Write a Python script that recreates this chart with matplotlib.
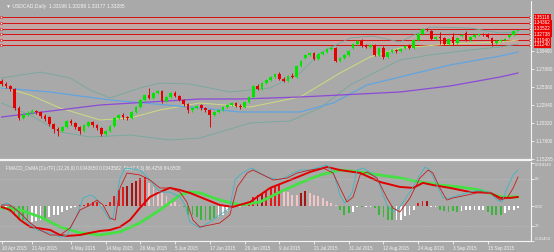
import matplotlib.pyplot as plt

plt.rcParams['font.family'] = ['Liberation Sans', 'DejaVu Sans']

# USDCAD daily candles, bar 0 = 10 Apr 2015 ... bar 119 = 24 Sep 2015
opens = [1.2620, 1.2578, 1.2550, 1.2508, 1.2242, 1.2102, 1.2144, 1.2172, 1.2200, 1.2186,
         1.2130, 1.2116, 1.2018, 1.1948, 1.1920, 1.1976, 1.2060, 1.2032, 1.1976, 1.1920,
         1.1990, 1.2046, 1.2004, 1.1962, 1.1878, 1.1920, 1.1990, 1.2102, 1.2144, 1.2116,
         1.2102, 1.2186, 1.2256, 1.2354, 1.2424, 1.2382, 1.2452, 1.2480, 1.2340, 1.2396,
         1.2452, 1.2410, 1.2354, 1.2298, 1.2214, 1.2242, 1.2284, 1.2242, 1.2214, 1.2144,
         1.2186, 1.2214, 1.2256, 1.2284, 1.2312, 1.2270, 1.2256, 1.2326, 1.2396, 1.2550,
         1.2508, 1.2592, 1.2634, 1.2676, 1.2718, 1.2648, 1.2620, 1.2690, 1.2676, 1.2830,
         1.2942, 1.2984, 1.3012, 1.2928, 1.2998, 1.3026, 1.3068, 1.3082, 1.2900, 1.2942,
         1.2984, 1.3082, 1.3138, 1.3180, 1.3110, 1.3096, 1.3124, 1.2984, 1.3082, 1.2956,
         1.3026, 1.3054, 1.3040, 1.3082, 1.3110, 1.3082, 1.3194, 1.3278, 1.3348, 1.3320,
         1.3208, 1.3236, 1.3222, 1.3138, 1.3236, 1.3152, 1.3250, 1.3292, 1.3194, 1.3236,
         1.3264, 1.3278, 1.3278, 1.3222, 1.3152, 1.3180, 1.3194, 1.3236, 1.3264, 1.33196]
highs = [1.2648, 1.2606, 1.2564, 1.2522, 1.2270, 1.2172, 1.2200, 1.2228, 1.2214, 1.2200,
         1.2158, 1.2130, 1.2032, 1.1976, 1.1990, 1.2074, 1.2088, 1.2046, 1.1990, 1.2018,
         1.2060, 1.2060, 1.2018, 1.1976, 1.1934, 1.2004, 1.2116, 1.2158, 1.2172, 1.2130,
         1.2200, 1.2270, 1.2368, 1.2438, 1.2522, 1.2466, 1.2494, 1.2494, 1.2410, 1.2466,
         1.2480, 1.2424, 1.2368, 1.2312, 1.2256, 1.2284, 1.2298, 1.2256, 1.2228, 1.2200,
         1.2228, 1.2270, 1.2298, 1.2326, 1.2326, 1.2298, 1.2340, 1.2410, 1.2564, 1.2578,
         1.2606, 1.2648, 1.2690, 1.2732, 1.2746, 1.2676, 1.2704, 1.2732, 1.2844, 1.2914,
         1.2998, 1.3026, 1.3026, 1.3012, 1.3040, 1.3082, 1.3110, 1.3096, 1.2956, 1.2998,
         1.3054, 1.3152, 1.3194, 1.3208, 1.3138, 1.3138, 1.3138, 1.3096, 1.3110, 1.3040,
         1.3068, 1.3068, 1.3082, 1.3124, 1.3138, 1.3208, 1.3292, 1.3362, 1.3362, 1.3334,
         1.3250, 1.3306, 1.3236, 1.3222, 1.3292, 1.3236, 1.3278, 1.3320, 1.3250, 1.3278,
         1.3292, 1.3292, 1.3292, 1.3236, 1.3194, 1.3208, 1.3222, 1.3278, 1.3334, 1.33288]
lows = [1.2550, 1.2522, 1.2480, 1.2214, 1.2074, 1.2088, 1.2130, 1.2158, 1.2158, 1.2102,
        1.2060, 1.1990, 1.1892, 1.1850, 1.1906, 1.1962, 1.2004, 1.1948, 1.1878, 1.1906,
        1.1976, 1.1976, 1.1934, 1.1850, 1.1850, 1.1906, 1.1976, 1.2088, 1.2088, 1.2074,
        1.2088, 1.2172, 1.2242, 1.2340, 1.2368, 1.2368, 1.2438, 1.2312, 1.2326, 1.2382,
        1.2396, 1.2340, 1.2270, 1.2172, 1.2186, 1.2228, 1.2214, 1.2186, 1.1976, 1.2130,
        1.2172, 1.2200, 1.2242, 1.2270, 1.2256, 1.2228, 1.2242, 1.2312, 1.2382, 1.2494,
        1.2494, 1.2578, 1.2620, 1.2662, 1.2634, 1.2606, 1.2606, 1.2662, 1.2662, 1.2816,
        1.2928, 1.2970, 1.2914, 1.2914, 1.2984, 1.3012, 1.3054, 1.2886, 1.2886, 1.2928,
        1.2970, 1.3068, 1.3124, 1.3096, 1.3082, 1.3082, 1.2970, 1.2970, 1.2928, 1.2942,
        1.3012, 1.3012, 1.3026, 1.3068, 1.3068, 1.3068, 1.3180, 1.3264, 1.3320, 1.3194,
        1.3194, 1.3138, 1.3124, 1.3124, 1.3124, 1.3138, 1.3236, 1.3180, 1.3180, 1.3222,
        1.3250, 1.3250, 1.3222, 1.3110, 1.3138, 1.3166, 1.3180, 1.3222, 1.3250, 1.33177]
closes = [1.2578, 1.2550, 1.2508, 1.2242, 1.2102, 1.2144, 1.2172, 1.2200, 1.2186, 1.2130,
          1.2088, 1.2018, 1.1948, 1.1920, 1.1976, 1.2060, 1.2032, 1.1976, 1.1920, 1.2004,
          1.2046, 1.2004, 1.1962, 1.1878, 1.1920, 1.1990, 1.2102, 1.2144, 1.2116, 1.2102,
          1.2186, 1.2256, 1.2354, 1.2424, 1.2382, 1.2452, 1.2480, 1.2340, 1.2396, 1.2452,
          1.2410, 1.2354, 1.2298, 1.2214, 1.2242, 1.2270, 1.2242, 1.2214, 1.2144, 1.2186,
          1.2214, 1.2256, 1.2284, 1.2312, 1.2270, 1.2256, 1.2326, 1.2396, 1.2550, 1.2508,
          1.2592, 1.2634, 1.2676, 1.2718, 1.2648, 1.2620, 1.2690, 1.2676, 1.2830, 1.2900,
          1.2984, 1.3012, 1.2928, 1.2998, 1.3026, 1.3068, 1.3082, 1.2900, 1.2942, 1.2984,
          1.3040, 1.3138, 1.3180, 1.3110, 1.3096, 1.3124, 1.2984, 1.3082, 1.2956, 1.3026,
          1.3054, 1.3040, 1.3068, 1.3110, 1.3082, 1.3194, 1.3278, 1.3348, 1.3334, 1.3208,
          1.3236, 1.3222, 1.3138, 1.3208, 1.3152, 1.3222, 1.3264, 1.3194, 1.3236, 1.3264,
          1.3278, 1.3264, 1.3236, 1.3152, 1.3180, 1.3194, 1.3208, 1.3264, 1.3320, 1.33285]

date_pos = [0, 7, 16, 24, 32, 40, 48, 56, 64, 72, 80, 88, 96, 104, 112]
date_labels = ["10 Apr 2015", "21 Apr 2015", "4 May 2015", "14 May 2015", "26 May 2015",
               "5 Jun 2015", "17 Jun 2015", "29 Jun 2015", "9 Jul 2015", "21 Jul 2015",
               "31 Jul 2015", "12 Aug 2015", "24 Aug 2015", "3 Sep 2015", "15 Sep 2015"]

price_ticks = [1.30400, 1.27880, 1.25360, 1.22840, 1.20320, 1.17800, 1.15285]
level_prices = [1.35118, 1.34362, 1.33522, 1.32738, 1.31940, 1.31240]

# overlays at sample bars
bb_up_x = [0, 8.9, 15.8, 20.4, 25.0, 31.9, 36.5, 43.4, 52.6, 61.9, 68.8, 73.4, 80.3, 85.6, 91.8, 98.7, 107.9, 114.9, 119]
bb_up = [1.2662, 1.2746, 1.2662, 1.2494, 1.2382, 1.2522, 1.2592, 1.2578, 1.2466, 1.2522, 1.2732, 1.3012, 1.3222, 1.3250, 1.3166, 1.3376, 1.3362, 1.3292, 1.3306]
bb_lo_x = [0, 6.6, 13.5, 20.4, 29.6, 38.8, 45.7, 57.3, 66.5, 73.4, 80.3, 87.2, 91.8, 98.7, 107.9, 114.9, 119]
bb_lo = [1.2312, 1.2144, 1.1906, 1.1836, 1.1864, 1.1794, 1.1822, 1.2032, 1.2060, 1.2242, 1.2564, 1.2774, 1.2914, 1.2984, 1.3054, 1.3096, 1.3138]
sma_x = [0, 6.6, 13.5, 22.7, 29.6, 36.5, 45.7, 57.3, 68.8, 78.0, 84.9, 91.8, 103.3, 114.9, 119]
sma = [1.2536, 1.2424, 1.2242, 1.2074, 1.2102, 1.2214, 1.2312, 1.2256, 1.2396, 1.2732, 1.2956, 1.3082, 1.3138, 1.3166, 1.3194]
ma_blue_x = [0, 11.2, 25.0, 45.7, 55.0, 68.8, 76.4, 84.2, 91.8, 103.3, 114.9, 119]
ma_blue = [1.2522, 1.2466, 1.2354, 1.2242, 1.2186, 1.2186, 1.2312, 1.2564, 1.2676, 1.2844, 1.2970, 1.3026]
ma_purple_x = [0, 22.7, 45.7, 55.0, 68.8, 91.8, 103.3, 114.9, 119]
ma_purple = [1.2116, 1.2284, 1.2368, 1.2368, 1.2396, 1.2466, 1.2550, 1.2676, 1.2732]

# FMACD_OsMA sub-window
osma = [-0.0008, -0.0013, -0.0025, -0.0042, -0.0055, -0.0059, -0.0063, -0.0067, -0.0063, -0.0059,
        -0.0055, -0.0046, -0.0038, -0.0034, -0.0025, -0.0017, -0.0008, -0.0004, 0.0004, 0.0008,
        0.0013, 0.0017, 0.0017, 0.0004, 0.0004, 0.0017, 0.0042, 0.0071, 0.0080, 0.0088,
        0.0097, 0.0109, 0.0118, 0.0122, 0.0097, 0.0080, 0.0067, 0.0059, 0.0042, 0.0029,
        0.0017, 0.0008, -0.0004, -0.0034, -0.0038, -0.0046, -0.0055, -0.0055, -0.0059, -0.0050,
        -0.0046, -0.0034, -0.0021, -0.0013, -0.0004, -0.0004, 0.0004, 0.0008, 0.0038, 0.0050,
        0.0055, 0.0063, 0.0076, 0.0084, 0.0092, 0.0067, 0.0059, 0.0050, 0.0050, 0.0055,
        0.0063, 0.0055, 0.0050, 0.0042, 0.0034, 0.0025, 0.0013, 0.0004, -0.0013, -0.0034,
        -0.0029, -0.0025, -0.0004, -0.0004, -0.0004, -0.0004, -0.0008, -0.0034, -0.0046, -0.0055,
        -0.0059, -0.0059, -0.0055, -0.0042, -0.0034, -0.0013, 0.0013, 0.0021, 0.0025, -0.0004,
        -0.0004, -0.0017, -0.0021, -0.0025, -0.0021, -0.0025, -0.0021, -0.0017, -0.0017, -0.0017,
        -0.0013, -0.0013, -0.0025, -0.0034, -0.0038, -0.0038, -0.0029, -0.0017, -0.0013, -0.0008]
osma_kind = list("wwgggggwww" "gwwwwwwwrr" "rrrprrrrrd" "ddrrpppppp" "ppgggggggg"
                 "wwwwwwrrrd" "drrrrppppd" "dppppppp" "gg" "gwwgwwgggg" "gwwwwwrrdw"
                 "wgggggwwww" "wwggggwwww")
macd_x = [0, 2.0, 4.3, 6.6, 11.2, 13.5, 15.1, 18.1, 20.4, 22.7, 25.0, 27.3, 29.6, 31.9, 34.2, 36.5, 38.8, 41.1,
          43.4, 45.7, 50.3, 53.3, 57.3, 61.9, 66.5, 71.1, 75.0, 78.0, 82.6, 87.2, 91.8, 94.8, 97.1, 99.4,
          103.3, 107.9, 112.6, 114.9, 117.2, 119]
macd = [-0.0002, -0.0015, -0.0057, -0.0086, -0.0099, -0.0120, -0.0124, -0.0120, -0.0111, -0.0103, -0.0099,
        -0.0086, -0.0057, -0.0006, 0.0040, 0.0061, 0.0078, 0.0069, 0.0057, 0.0040, 0.0006, -0.0002, 0.0019,
        0.0078, 0.0111, 0.0145, 0.0166, 0.0153, 0.0141, 0.0103, 0.0082, 0.0078, 0.0099, 0.0090, 0.0078,
        0.0061, 0.0057, 0.0036, 0.0036, 0.0040]
signal_x = [0, 4.3, 8.9, 13.5, 18.1, 22.7, 27.3, 31.9, 36.5, 41.1, 43.4, 45.7, 50.3, 55.0, 59.6, 64.2, 68.8,
            73.4, 78.0, 82.6, 87.2, 91.8, 96.4, 101.0, 105.6, 110.3, 114.9, 119]
signal = [-0.0006, -0.0015, -0.0044, -0.0086, -0.0111, -0.0120, -0.0107, -0.0069, -0.0015, 0.0048, 0.0061,
          0.0057, 0.0027, 0.0006, 0.0019, 0.0061, 0.0099, 0.0132, 0.0153, 0.0145, 0.0132, 0.0120, 0.0103,
          0.0090, 0.0082, 0.0069, 0.0040, 0.0040]
stoch_k_x = [0, 1.3, 3.6, 5.9, 8.2, 11.2, 13.5, 15.1, 17.4, 18.8, 20.4, 21.5, 22.7, 25.0, 25.7, 27.3, 28.5,
             31.9, 34.2, 36.5, 38.8, 41.1, 42.3, 43.4, 45.7, 48.0, 50.3, 52.6, 53.8, 55.4, 57.7, 59.6, 61.2,
             64.2, 67.2, 68.8, 71.1, 73.4, 75.0, 76.4, 78.0, 79.1, 80.8, 81.9, 83.3, 84.9, 86.5, 88.8, 90.2,
             91.8, 94.1, 96.4, 97.6, 98.7, 100.3, 101.7, 103.3, 105.6, 107.9, 110.3, 112.6, 114.2, 115.3,
             116.5, 117.9, 119]
stoch_k = [46.7, 49.3, 40.4, 25.0, 14.8, 11.0, 5.9, 8.4, 34.0, 55.7, 59.5, 57.0, 46.7, 27.6, 30.1, 81.2, 94.0,
           91.4, 78.7, 63.3, 63.3, 57.0, 46.7, 25.0, 17.4, 25.0, 34.0, 42.9, 78.7, 87.6, 94.0, 87.6, 82.5,
           78.7, 87.6, 91.4, 91.4, 95.3, 97.8, 88.9, 59.5, 49.3, 63.3, 91.4, 94.0, 88.9, 81.2, 46.7, 37.8,
           44.2, 63.3, 85.1, 95.3, 91.4, 72.3, 55.7, 55.7, 59.5, 63.3, 65.9, 62.1, 53.1, 50.6, 68.5, 85.1, 91.4]
stoch_d_x = [0, 2.0, 4.3, 6.6, 8.9, 11.2, 13.5, 15.8, 18.1, 20.4, 22.0, 23.4, 25.0, 26.2, 27.3, 28.9, 31.9,
             34.2, 36.5, 38.8, 41.1, 42.7, 44.1, 45.7, 50.3, 52.6, 54.3, 56.6, 57.9, 60.3, 62.6, 65.8, 68.1,
             71.1, 74.1, 76.4, 78.0, 79.6, 81.0, 82.6, 84.2, 86.5, 88.8, 90.2, 91.8, 94.1, 96.4, 98.3, 99.4,
             101.0, 102.6, 104.0, 107.3, 110.3, 112.6, 114.9, 116.5, 117.9, 119]
stoch_d = [46.7, 46.7, 36.5, 23.8, 14.8, 8.4, 8.4, 17.4, 40.4, 46.7, 53.1, 46.7, 30.1, 27.6, 68.5, 87.6, 85.1,
           78.7, 68.5, 68.5, 63.3, 50.6, 27.6, 18.6, 23.8, 34.0, 69.7, 87.6, 91.4, 85.1, 78.7, 81.2, 87.6,
           91.4, 94.0, 87.6, 68.5, 50.6, 57.0, 85.1, 88.9, 81.2, 55.7, 42.9, 37.8, 55.7, 81.2, 91.4, 87.6,
           68.5, 53.1, 55.7, 59.5, 63.3, 62.1, 53.1, 55.7, 68.5, 82.5]

BG = "#a9a9a9"
TXT = "#f4f4f4"
W, H = 554, 252


def rect(top, bottom):
    return [0, 1 - bottom / H, 531 / W, (bottom - top) / H]


fig = plt.figure(figsize=(W / 100, H / 100), dpi=100)
fig.patch.set_facecolor(BG)
ax = fig.add_axes(rect(1, 160))
axi = fig.add_axes(rect(162, 241), sharex=ax)
axs = axi.twinx()

for a in (ax, axi):
    a.set_facecolor(BG)
for a in (ax, axi, axs):
    for s in a.spines.values():
        s.set_visible(False)
for a in (ax, axi):
    a.spines["right"].set_visible(True)
    a.spines["right"].set_color(TXT)
    a.spines["right"].set_linewidth(0.8)
    a.spines["bottom"].set_visible(True)
    a.spines["bottom"].set_color(TXT)
ax.spines["bottom"].set_linewidth(1.6)
axi.spines["bottom"].set_linewidth(0.8)

# ---- main price window
idx = list(range(len(closes)))
cols = ["#00e600" if c >= o else "#e60000" for o, c in zip(opens, closes)]
ax.axhspan(level_prices[1], level_prices[0], color="#f2a4a4", alpha=0.35, lw=0)
ax.axhspan(level_prices[2], level_prices[1], color="#f2a4a4", alpha=0.35, lw=0)
ax.axhspan(level_prices[4], level_prices[3], color="#f2a4a4", alpha=0.35, lw=0)
ax.axhspan(level_prices[5], level_prices[4], color="#f2a4a4", alpha=0.35, lw=0)
for lv in level_prices:
    ax.axhline(lv, color="#d41010", lw=0.7)
    ax.plot([-0.05, 121.7], [lv, lv], ls="none", marker="s", ms=1.6, mfc="white", mec="#d41010", mew=0.4)
    ax.text(1.006, lv, f"{lv:.5f}", transform=ax.get_yaxis_transform(), fontsize=3.3, color="white",
            va="center", ha="left", bbox=dict(boxstyle="square,pad=0.12", fc="#ee0000", ec="none"))

ax.plot(bb_up_x, bb_up, color="#74a89e", lw=0.6)
ax.plot(bb_lo_x, bb_lo, color="#74a89e", lw=0.6)
ax.plot(sma_x, sma, color="#cfdc7c", lw=0.7)
ax.plot(ma_blue_x, ma_blue, color="#62a4e0", lw=0.9)
ax.plot(ma_purple_x, ma_purple, color="#8c4ad6", lw=0.9)

ax.vlines(idx, lows, highs, colors=cols, lw=0.7, zorder=3)
body = [max(abs(c - o), 0.0003) for o, c in zip(opens, closes)]
ax.bar(idx, body, bottom=[min(o, c) for o, c in zip(opens, closes)], width=0.62, color=cols, lw=0, zorder=4)

ax.set_xlim(-0.35, 122.0)
ax.set_ylim(1.1514, 1.3740)
ax.yaxis.tick_right()
ax.set_yticks(price_ticks)
ax.set_yticklabels([f"{p:.5f}" for p in price_ticks])
ax.tick_params(axis="y", colors=TXT, labelcolor=TXT, labelsize=3.4, length=2, width=0.6, pad=1.5)
ax.tick_params(axis="x", bottom=False, labelbottom=False)
ax.text(0.012, 0.966, "\u25bc USDCAD,Daily  1.33196 1.33288 1.33177 1.33285", transform=ax.transAxes,
        fontsize=3.6, color=TXT, va="center", ha="left")

# ---- oscillator window
hist_col = {"g": "#3cb43c", "w": "#ffffff", "r": "#e81818", "d": "#a81414", "p": "#f2c6c6"}
axi.bar(idx, osma, width=0.42, color=[hist_col[k] for k in osma_kind], lw=0, zorder=2)
axi.plot(signal_x, signal, color="#44e044", lw=2.0, zorder=3, solid_capstyle="round")
axi.plot(macd_x, macd, color="#e00000", lw=1.4, zorder=4, solid_capstyle="round")
axs.axhline(80, color="#c4c4c4", lw=0.4, ls=(0, (1, 1)))
axs.axhline(20, color="#c4c4c4", lw=0.4, ls=(0, (1, 1)))
axs.plot(stoch_k_x, stoch_k, color="#3fb4c4", lw=0.6, zorder=5)
axs.plot(stoch_d_x, stoch_d, color="#c81c1c", lw=0.6, zorder=5)

axi.set_ylim(-0.01449, 0.01869)
axs.set_ylim(0.77, 101.7)
axi.yaxis.tick_right()
axi.set_yticks([0.018143, 0.0, -0.01453])
axi.set_yticklabels(["0.018143", "0.00", "-0.01453"])
labs = axi.get_yticklabels()
labs[0].set_va("top")
labs[2].set_va("bottom")
axs.set_yticks([80, 20])
axs.set_yticklabels(["80", "20"])
for a in (axi, axs):
    a.tick_params(axis="y", colors=TXT, labelcolor=TXT, labelsize=3.0, length=2, width=0.6, pad=1.0)
axi.text(0.012, 0.92, "FMACD_OsMA [CurTF] (12,26,9) 0.0043650 0.0043582  Sto(7,3,3) 86.4259 84.6508",
         transform=axi.transAxes, fontsize=3.3, color=TXT, va="center", ha="left")

axi.set_xticks(date_pos)
axi.set_xticklabels(date_labels, ha="left")
axi.tick_params(axis="x", colors=TXT, labelcolor=TXT, labelsize=3.3, length=2, width=0.6, pad=1.5)
axi.tick_params(axis="x", which="both", labelbottom=True)
axs.tick_params(axis="x", bottom=False, labelbottom=False)

fig.savefig("out.png", dpi=100, facecolor=BG)
